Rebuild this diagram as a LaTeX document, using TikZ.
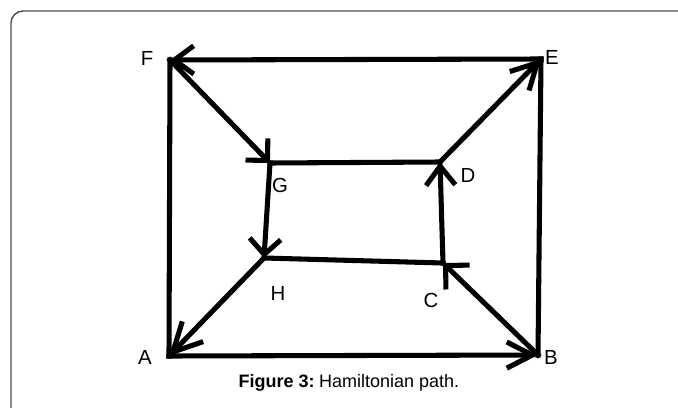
\documentclass[tikz,border=0pt]{standalone}
\usepackage{fontspec}
\setmainfont{Liberation Sans}
\usetikzlibrary{arrows.meta}

\begin{document}
\begin{tikzpicture}[
  x=0.025cm, y=-0.025cm,
  lbl/.style={font=\fontsize{14.5}{17}\selectfont, inner sep=0pt},
  capt/.style={font=\fontsize{12.8}{15}\selectfont, inner sep=0pt, anchor=base},
  edge/.style={line width=3.6pt, line cap=rect},
  arr/.style={edge, -{Straight Barb[angle=#1]}},
  panel/.style={draw=black!70, line width=1pt, rounded corners=0.3cm},
]
\useasboundingbox (0,0) rectangle (678,408);
\draw[panel] (11,420) -- (11,11) -- (690,11);

% outer and inner square
\coordinate (F) at (170,60);
\coordinate (E) at (541,59);
\coordinate (A) at (169,356);
\coordinate (B) at (538,355);
\coordinate (G) at (270,163);
\coordinate (D) at (440,162);
\coordinate (H) at (264,258);
\coordinate (C) at (443,263);

\node[lbl] (labF) at (147,58) {F};
\node[lbl] (labE) at (552,57) {E};
\node[lbl] (labG) at (280,185) {G};
\node[lbl] (labD) at (468,175) {D};
\node[lbl] (labH) at (278,293) {H};
\node[lbl] (labC) at (431,300) {C};
\node[lbl] (labA) at (145,357) {A};
\node[lbl] (labB) at (551,357) {B};

\draw[edge] (A) -- (F);
\draw[edge] (B) -- (E);
\draw[edge] (G) -- (D);
\draw[edge] (H) -- (C);

% the cycle
\draw[arr=54:0.72cm] (A) -- (B);
\draw[arr=90:0.6cm] (B) -- (C);
\draw[arr=75:0.6cm] (C) -- (D);
\draw[arr=56:0.72cm] (D) -- (E);
\draw[arr=72:0.6cm] (E) -- (F);
\draw[arr=90:0.55cm] (F) -- (G);
\draw[arr=90:0.55cm] (G) -- (H);
\draw[arr=54:0.8cm] (H) -- (A);

\node[capt] (cap) at (349,387) {\textbf{Figure 3:}\hspace{0.25em}Hamiltonian path.};
\end{tikzpicture}
\end{document}
